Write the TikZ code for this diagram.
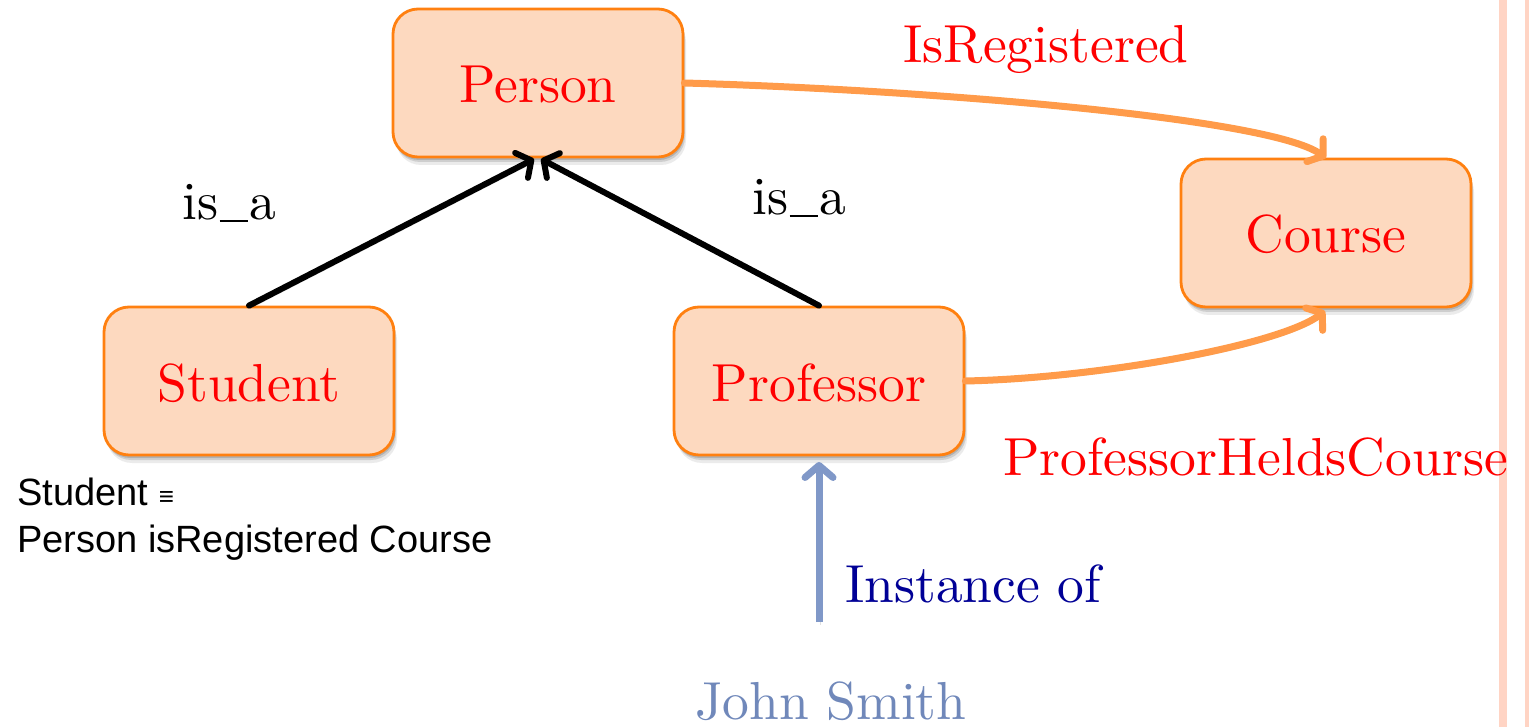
\documentclass[tikz,border=0pt]{standalone}
\usepackage{fontspec}
\usetikzlibrary{arrows.meta,shadows}
\newfontfamily\lmten{lmroman10-regular}[Extension=.otf]
\newfontfamily\sansarial{Liberation Sans}

\definecolor{boxfill}{HTML}{FDD9BF}
\definecolor{boxline}{HTML}{FF8010}
\definecolor{relline}{HTML}{FF9B4A}
\definecolor{instline}{HTML}{8098C8}
\definecolor{instlabel}{HTML}{000096}
\definecolor{indiv}{HTML}{7088BA}
\definecolor{sidebar}{HTML}{FFD4C4}

\newcommand{\isaline}{is\kern1.5pt\rule[-2pt]{28pt}{2.3pt}\kern1.5pt a}

\tikzset{
  bigfont/.style={font=\lmten\fontsize{53.5}{60}\selectfont},
  classbox/.style={
    bigfont, text=red, draw=boxline, fill=boxfill, line width=2.8pt,
    rounded corners=25pt, minimum width=290pt, minimum height=148pt,
    text height=40pt, text depth=0pt, inner sep=0pt,
    drop shadow={shadow xshift=1pt, shadow yshift=-3pt, opacity=.15, fill=black},
    drop shadow={shadow xshift=2pt, shadow yshift=-5pt, opacity=.12, fill=black},
    drop shadow={shadow xshift=3pt, shadow yshift=-8pt, opacity=.08, fill=black}},
  label/.style={bigfont, inner sep=0pt, anchor=base west},
  lineshadow/.style={preaction={draw=black, opacity=.12,
    transform canvas={xshift=1pt,yshift=-3pt}}},
  isa/.style={draw=black, line width=6pt, line cap=round, lineshadow,
    -{Straight Barb[length=11pt,width=28pt,round]}},
  relation/.style={draw=relline, line width=7pt, line cap=round, lineshadow,
    -{Straight Barb[length=10pt,width=28pt,round]}},
  instance/.style={draw=instline, line width=7pt, lineshadow,
    -{Straight Barb[length=12pt,width=28pt,round]}},
  note/.style={font=\sansarial\fontsize{38}{44}\selectfont, inner sep=0pt, anchor=base west}
}

\begin{document}
\begin{tikzpicture}[x=1pt,y=-1pt]
  \useasboundingbox (0,0) rectangle (1529,727);

  % side bars at the right edge
  \fill[sidebar] (1499,0) rectangle (1507,727);
  \fill[sidebar] (1525,0) rectangle (1529,727);

  % classes
  \node[classbox] (person)    at (538,83)   {Person};
  \node[classbox] (course)    at (1326,233) {Course};
  \node[classbox] (student)   at (249,381)  {Student};
  \node[classbox] (professor) at (819,381)  {Professor};

  % is_a links
  \coordinate (isaL) at (534,159);
  \coordinate (isaR) at (541,159);
  \draw[isa] (student.north) -- (isaL);
  \draw[isa] (professor.north) -- (isaR);
  \node[label] (isa1) at (182,220) {\isaline};
  \node[label] (isa2) at (752,215) {\isaline};

  % relations
  \coordinate (regEnd) at (1326,158);
  \coordinate (heldEnd) at (1325,311);
  \draw[relation] (person.east) .. controls (930,90) and (1270,118) .. (regEnd);
  \draw[relation] (professor.east) .. controls (1100,378) and (1280,345) .. (heldEnd);
  \node[label, text=red, anchor=base] (reg) at (1046,63) {IsRegistered};
  \node[label, text=red] (held) at (1003,475) {ProfessorHeldsCourse};

  % instance
  \node[label, text=indiv] (john) at (695,719) {John Smith};
  \coordinate (instStart) at (819,622);
  \coordinate (instEnd) at (819,462);
  \draw[instance] (instStart) -- (instEnd);
  \node[label, text=instlabel] (inst) at (845,602) {Instance of};

  % definition note
  \node[note] (def1) at (17,505) {Student {\fontsize{26}{26}\selectfont ≡}};
  \node[note] (def2) at (17,552) {Person isRegistered Course};
\end{tikzpicture}
\end{document}
